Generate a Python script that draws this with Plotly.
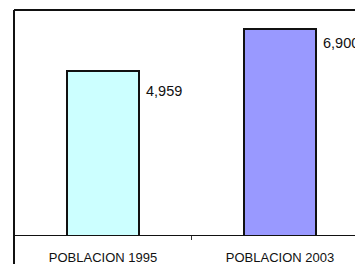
import math
import plotly.graph_objects as go

categories = ["POBLACION 1995", "POBLACION 2003"]
values = [4959, 6900]
value_labels = ["4,959", "6,900"]
bar_colors = ["#CCFFFF", "#9999FF"]

W, H = 355, 264
ML, MR, MT, MB = 14, 0, 10, 29
plot_w = W - ML - MR
plot_h = H - MT - MB
px_per_cat = 177.0
x0 = -(103 - ML) / px_per_cat
x1 = x0 + plot_w / px_per_cat

fig = go.Figure()
fig.add_trace(go.Bar(
    x=categories, y=values,
    marker=dict(color=bar_colors, line=dict(color="#111111", width=2)),
    width=72 / px_per_cat,
    hoverinfo="skip",
))

label_shift = [-20, -14]
for c, v, t, ys in zip(categories, values, value_labels, label_shift):
    fig.add_annotation(
        x=c, y=math.log10(v), text=t, showarrow=False,
        xanchor="left", yanchor="middle", xshift=36 + 5, yshift=ys,
        font=dict(family="Liberation Sans, Arial", size=14.5, color="#111111"),
    )

# chart area border (top and left)
fig.add_shape(type="line", xref="paper", yref="paper", x0=0, x1=1.05, y0=1, y1=1,
              line=dict(color="#111111", width=2))
fig.add_shape(type="line", xref="paper", yref="paper", x0=0, x1=0, y0=1, y1=-MB / plot_h - 0.05,
              line=dict(color="#111111", width=2))

fig.update_layout(
    width=W, height=H,
    margin=dict(l=ML, r=MR, t=MT, b=MB, pad=0),
    paper_bgcolor="white", plot_bgcolor="white",
    showlegend=False,
    xaxis=dict(
        type="category", range=[x0, x1],
        showline=True, linecolor="#111111", linewidth=1,
        ticks="outside", tickson="boundaries", ticklen=4, tickcolor="#333333",
        ticklabelstandoff=10,
        tickfont=dict(family="Liberation Sans, Arial", size=13, color="#111111"),
        showgrid=False, zeroline=False, fixedrange=True,
    ),
    yaxis=dict(
        type="log", range=[3.13520, 3.90375],
        showticklabels=False, showgrid=False, zeroline=False, showline=False,
        ticks="", fixedrange=True,
    ),
)

fig.write_html(
    "out.html",
    config={"staticPlot": True},
    post_script="document.body.style.margin='0px';document.body.style.overflow='hidden';",
)
